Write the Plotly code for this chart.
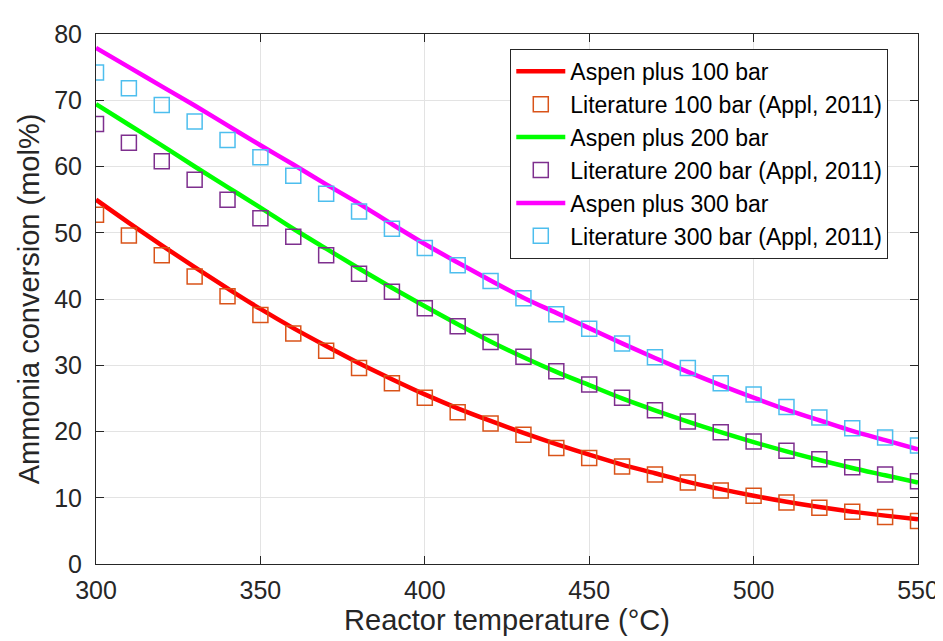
import plotly.graph_objects as go

temps = [300, 310, 320, 330, 340, 350, 360, 370, 380, 390, 400, 410, 420,
         430, 440, 450, 460, 470, 480, 490, 500, 510, 520, 530, 540, 550]

aspen_100 = [55.0, 51.5, 48.1, 44.8, 41.6, 38.5, 35.6, 32.9, 30.3, 27.9, 25.6, 23.5, 21.6,
             19.8, 18.1, 16.5, 15.0, 13.7, 12.4, 11.3, 10.3, 9.4, 8.6, 7.9, 7.3, 6.75]
aspen_200 = [69.4, 66.3, 63.2, 60.0, 56.9, 53.8, 50.6, 47.6, 44.6, 41.7, 38.9, 36.2, 33.6,
             31.2, 29.0, 27.0, 25.0, 23.2, 21.5, 19.9, 18.4, 17.0, 15.7, 14.5, 13.4, 12.3]
aspen_300 = [77.9, 75.0, 72.1, 69.2, 66.2, 63.2, 60.3, 57.3, 54.4, 51.3, 48.3, 45.5, 42.8,
             40.2, 37.9, 35.6, 33.3, 31.1, 29.0, 27.0, 25.1, 23.3, 21.7, 20.1, 18.7, 17.3]

lit_100 = [52.7, 49.6, 46.6, 43.4, 40.4, 37.6, 34.8, 32.2, 29.6, 27.3, 25.1, 22.9, 21.2,
           19.5, 17.5, 16.0, 14.7, 13.5, 12.3, 11.1, 10.3, 9.3, 8.5, 7.9, 7.1, 6.5]
lit_200 = [66.4, 63.6, 60.8, 58.0, 55.0, 52.2, 49.4, 46.6, 43.8, 41.1, 38.6, 35.9, 33.5,
           31.3, 29.1, 27.1, 25.1, 23.2, 21.5, 19.9, 18.5, 17.1, 15.8, 14.6, 13.5, 12.5]
lit_300 = [74.2, 71.8, 69.3, 66.8, 64.0, 61.4, 58.6, 55.9, 53.2, 50.6, 47.7, 45.1, 42.7,
           40.1, 37.7, 35.5, 33.3, 31.2, 29.6, 27.3, 25.6, 23.7, 22.1, 20.5, 19.1, 17.9]

x_ticks = [300, 350, 400, 450, 500, 550]
y_ticks = [0, 10, 20, 30, 40, 50, 60, 70, 80]

FONT = "Liberation Sans, Arial, sans-serif"
TXT = "#262626"

fig = go.Figure()

series = [
    ("Aspen plus 100 bar", aspen_100, "#FF0000", "Literature 100 bar (Appl, 2011)", lit_100, "#D95319"),
    ("Aspen plus 200 bar", aspen_200, "#00FF00", "Literature 200 bar (Appl, 2011)", lit_200, "#7E2F8E"),
    ("Aspen plus 300 bar", aspen_300, "#FF00FF", "Literature 300 bar (Appl, 2011)", lit_300, "#4DBEEE"),
]

for lname, lvals, lcol, mname, mvals, mcol in series:
    fig.add_trace(go.Scatter(
        x=temps, y=lvals, mode="lines", name=lname,
        line=dict(color=lcol, width=4.5, shape="spline")))
    fig.add_trace(go.Scatter(
        x=temps, y=mvals, mode="markers", name=mname,
        marker=dict(symbol="square-open", size=15, color=mcol, line=dict(width=1.5, color=mcol))))

axis_common = dict(
    showline=True, linecolor=TXT, linewidth=1, mirror="ticks",
    ticks="inside", ticklen=8, tickcolor=TXT, tickwidth=1,
    showgrid=True, gridcolor="#E3E3E3", gridwidth=1,
    zeroline=False,
    tickfont=dict(family=FONT, size=25, color=TXT),
)

fig.update_layout(
    width=943, height=641,
    margin=dict(l=88, r=24, t=19, b=85),
    paper_bgcolor="white", plot_bgcolor="white",
    font=dict(family=FONT, color=TXT),
    xaxis=dict(range=[300, 550], tickvals=x_ticks, ticklabelstandoff=4,
               title=dict(text="Reactor temperature (°C)", font=dict(family=FONT, size=29, color=TXT), standoff=4),
               **axis_common),
    yaxis=dict(range=[0, 80], tickvals=y_ticks, ticklabelstandoff=8,
               title=dict(text="Ammonia conversion (mol%)", font=dict(family=FONT, size=29, color=TXT), standoff=6),
               **axis_common),
    legend=dict(x=0.504, y=0.972, xanchor="left", yanchor="top",
                bgcolor="white", bordercolor=TXT, borderwidth=1,
                font=dict(family=FONT, size=23, color="#000000"),
                itemwidth=49, tracegroupgap=0),
    showlegend=True,
)

fig.write_html("out.html")
